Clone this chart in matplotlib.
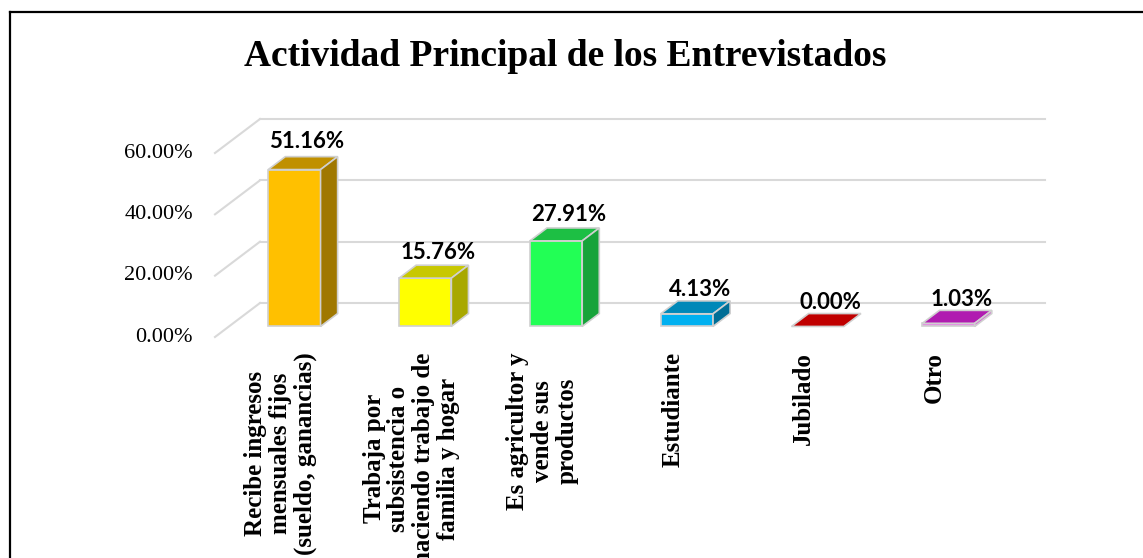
import numpy as np
import matplotlib
matplotlib.use("Agg")
import matplotlib.pyplot as plt
from matplotlib.patches import Polygon

categories = [
    "Recibe ingresos\nmensuales fijos\n(sueldo, ganancias)",
    "Trabaja por\nsubsistencia o\nhaciendo trabajo de\nfamilia y hogar",
    "Es agricultor y\nvende sus\nproductos",
    "Estudiante",
    "Jubilado",
    "Otro",
]
values = [51.16, 15.76, 27.91, 4.13, 0.00, 1.03]
y_ticks = [0, 20, 40, 60]

front_colors = ["#FFC000", "#FFFF00", "#22FF55", "#00B0F0", "#C00000", "#E58AE5"]
top_colors = ["#C09000", "#C8C800", "#1DBF44", "#0088B8", "#C00000", "#B01CB0"]
side_colors = ["#A07800", "#A8A800", "#17A33A", "#006E96", "#A00000", "#D070D0"]

W, H = 1143, 558
fig = plt.figure(figsize=(W / 100, H / 100), dpi=100)
fig.patch.set_facecolor("white")

# front plane: x 0..6 -> px 215..1000, y 0..60 -> px 337..153
ax = fig.add_axes([215 / W, 1 - 337 / H, 785 / W, 184 / H])
ax.set_xlim(0, 6)
ax.set_ylim(0, 60)
ax.axis("off")

# oblique depth offset (data units)
DX = 45 / (785 / 6)
DY = 34 / (184 / 60)
f0, f1 = 0.31, 0.69
bw = 0.4
grid_col = "#D9D9D9"
edge_col = "#D0D0D0"

# back wall gridlines and side diagonals
for v in y_ticks:
    ax.plot([DX, 6 + DX], [v + DY, v + DY], color=grid_col, lw=1.5, clip_on=False, zorder=1)
    ax.plot([0, DX], [v, v + DY], color=grid_col, lw=1.5, clip_on=False, zorder=1)
    ax.annotate(f"{v:.2f}%", xy=(0, v), xytext=(-16, 0), textcoords="offset points",
                ha="right", va="center", fontsize=16, family="Liberation Serif",
                annotation_clip=False)

x = np.arange(len(values)) + 0.5
sx0, sy0 = f0 * DX, f0 * DY
sx1, sy1 = f1 * DX, f1 * DY

ax.bar(x + sx0, values, width=bw, bottom=sy0, color=front_colors,
       edgecolor=edge_col, linewidth=1.2, clip_on=False, zorder=3)

for xi, v, tc, sc in zip(x, values, top_colors, side_colors):
    l, r = xi - bw / 2, xi + bw / 2
    top = [(l + sx0, v + sy0), (r + sx0, v + sy0), (r + sx1, v + sy1), (l + sx1, v + sy1)]
    ax.add_patch(Polygon(top, closed=True, facecolor=tc, edgecolor=edge_col,
                         linewidth=1.2, clip_on=False, zorder=3))
    if v > 0:
        side = [(r + sx0, sy0), (r + sx1, sy1), (r + sx1, v + sy1), (r + sx0, v + sy0)]
        ax.add_patch(Polygon(side, closed=True, facecolor=sc, edgecolor=edge_col,
                             linewidth=1.2, clip_on=False, zorder=3))
    ax.annotate(f"{v:.2f}%", xy=(xi + 0.5 * (sx0 + sx1), v + sy1), xytext=(3, 8 + 0.06 * v),
                textcoords="offset points", ha="center", va="center",
                fontsize=16, fontweight="bold", family="Lato", annotation_clip=False,
                zorder=4)

for xi, lab in zip(x, categories):
    ax.annotate(lab, xy=(xi, 0), xytext=(0, -11), textcoords="offset points",
                rotation=90, ha="center", va="top", multialignment="center",
                fontsize=18, fontweight="bold", family="Liberation Serif",
                linespacing=1.1, annotation_clip=False)

fig.text(565 / W, 1 - 56 / H, "Actividad Principal de los Entrevistados",
         ha="center", va="center", fontsize=27, fontweight="bold", family="Liberation Serif")

# outer frame (top and left edges)
fig.add_artist(plt.Line2D([10 / W, 1.0], [1 - 12 / H, 1 - 12 / H], color="black", lw=1.6,
                          transform=fig.transFigure))
fig.add_artist(plt.Line2D([10 / W, 10 / W], [0, 1 - 12 / H], color="black", lw=1.6,
                          transform=fig.transFigure))

fig.savefig("out.png", dpi=100)
